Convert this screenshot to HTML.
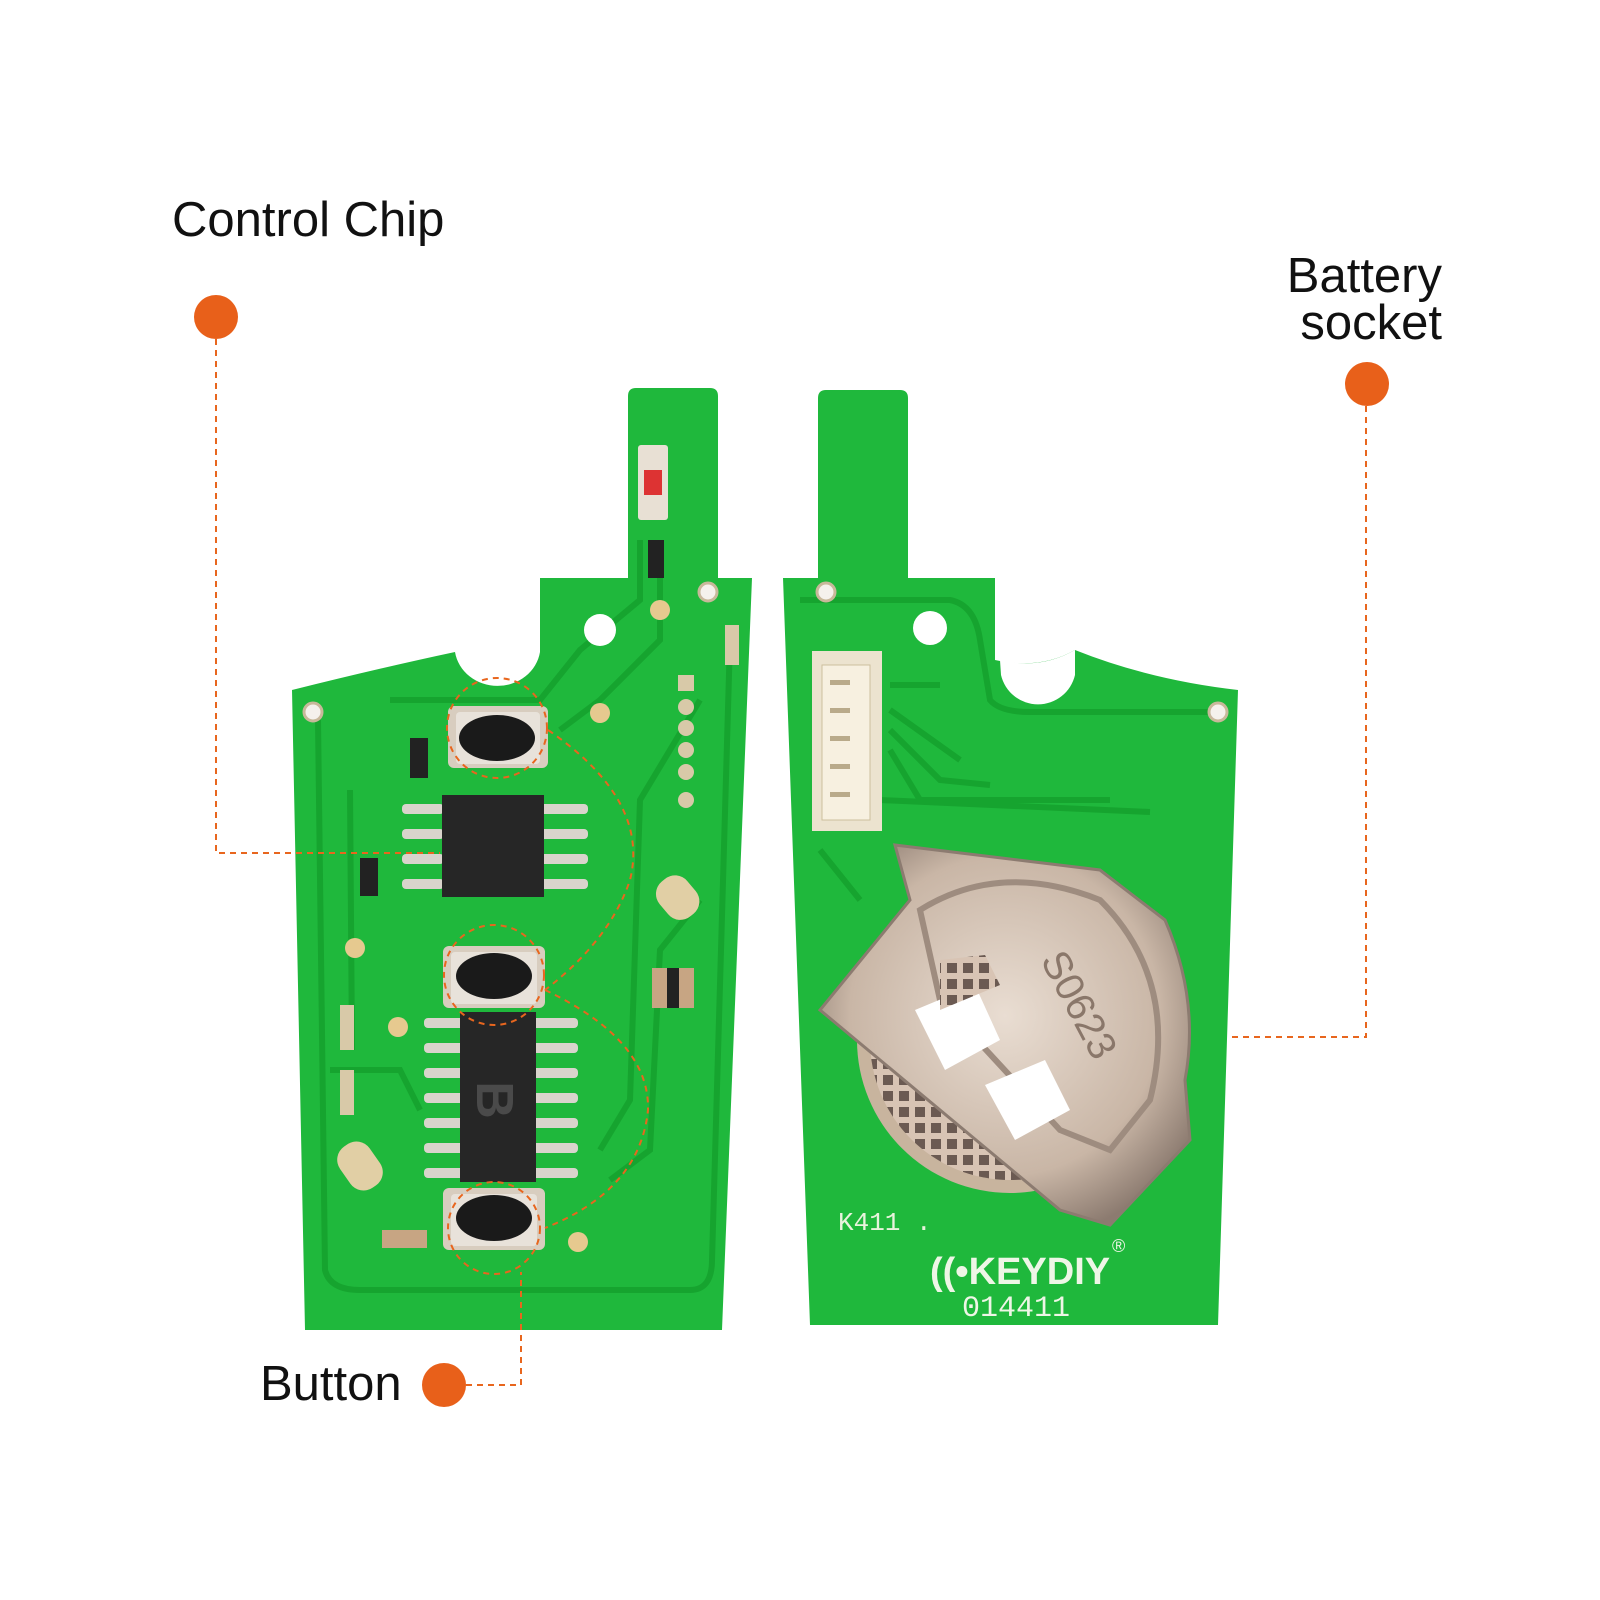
<!DOCTYPE html>
<html><head><meta charset="utf-8"><style>
html,body{margin:0;padding:0;background:#fff;}
svg{display:block}
</style></head><body>
<svg width="1600" height="1600" viewBox="0 0 1600 1600" xmlns="http://www.w3.org/2000/svg">
<defs>
<radialGradient id="met" cx="50%" cy="45%" r="60%">
<stop offset="0" stop-color="#e9ddd2"/><stop offset="0.7" stop-color="#c9b6a6"/><stop offset="1" stop-color="#8c7b70"/>
</radialGradient>
<pattern id="grid" width="16" height="16" patternUnits="userSpaceOnUse">
<rect width="16" height="16" fill="#d8c4b4"/><rect x="3" y="3" width="10" height="10" fill="#6b5a52"/>
</pattern>
</defs>
<rect width="1600" height="1600" fill="#fff"/>

<!-- Left PCB -->
<path d="M628,396 Q628,388 636,388 L710,388 Q718,388 718,396 L718,578 L752,578 L722,1330 L305,1330 L292,690 Q380,668 455,652 A43,40 0 0 0 540,652 L540,578 L628,578 Z" fill="#1fb83c"/>
<!-- left PCB traces -->
<g fill="none" stroke="#16a42f" stroke-width="6">
<path d="M318,720 L325,1270 Q330,1290 360,1290 L690,1290 Q712,1290 712,1260 L730,640"/>
<path d="M350,790 L352,1050 M390,700 L540,700 L580,650 L640,600 L640,540"/>
<path d="M560,730 L600,700 L660,640 L660,570 M600,1150 L630,1100 L640,800 L700,700"/>
<path d="M330,1070 L400,1070 L420,1110 M610,1180 L650,1150 L660,950 L700,900"/>
</g>
<circle cx="600" cy="630" r="16" fill="#fff"/>
<circle cx="313" cy="712" r="9" fill="#f5f1ec" stroke="#c8b89a" stroke-width="3"/>
<circle cx="708" cy="592" r="9" fill="#f5f1ec" stroke="#c8b89a" stroke-width="3"/>
<rect x="638" y="445" width="30" height="75" rx="3" fill="#e8e0d4"/>
<rect x="644" y="470" width="18" height="25" fill="#d33"/>
<rect x="648" y="540" width="16" height="38" fill="#222"/>
<circle cx="660" cy="610" r="10" fill="#e6c98f"/>
<circle cx="600" cy="713" r="10" fill="#e6c98f"/>
<circle cx="355" cy="948" r="10" fill="#e6c98f"/>
<circle cx="398" cy="1027" r="10" fill="#e6c98f"/>
<circle cx="578" cy="1242" r="10" fill="#e6c98f"/>
<g fill="#d8c9a8"><rect x="678" y="675" width="16" height="16"/><circle cx="686" cy="707" r="8"/><circle cx="686" cy="728" r="8"/><circle cx="686" cy="750" r="8"/><circle cx="686" cy="772" r="8"/><circle cx="686" cy="800" r="8"/></g>
<rect x="725" y="625" width="14" height="40" fill="#d8c9a8"/>
<rect x="410" y="738" width="18" height="40" fill="#222"/>
<rect x="360" y="858" width="18" height="38" fill="#222"/>
<rect x="340" y="1005" width="14" height="45" fill="#d8c9a8"/>
<rect x="340" y="1070" width="14" height="45" fill="#d8c9a8"/>
<rect x="652" y="968" width="42" height="40" fill="#c7a583"/>
<rect x="667" y="968" width="12" height="40" fill="#222"/>
<rect x="382" y="1230" width="45" height="18" fill="#c7a583"/>
<rect x="655" y="880" width="45" height="36" rx="16" fill="#e1cfa5" transform="rotate(50 678 898)"/>
<rect x="335" y="1148" width="50" height="36" rx="16" fill="#e1cfa5" transform="rotate(55 360 1166)"/>
<!-- upper chip -->
<g fill="#d9d4cc"><rect x="402" y="804" width="42" height="10" rx="4"/><rect x="402" y="829" width="42" height="10" rx="4"/><rect x="402" y="854" width="42" height="10" rx="4"/><rect x="402" y="879" width="42" height="10" rx="4"/>
<rect x="540" y="804" width="48" height="10" rx="4"/><rect x="540" y="829" width="48" height="10" rx="4"/><rect x="540" y="854" width="48" height="10" rx="4"/><rect x="540" y="879" width="48" height="10" rx="4"/></g>
<rect x="442" y="795" width="102" height="102" fill="#262626"/>
<!-- lower chip -->
<g fill="#d9d4cc">
<rect x="424" y="1018" width="40" height="10" rx="4"/><rect x="424" y="1043" width="40" height="10" rx="4"/><rect x="424" y="1068" width="40" height="10" rx="4"/><rect x="424" y="1093" width="40" height="10" rx="4"/><rect x="424" y="1118" width="40" height="10" rx="4"/><rect x="424" y="1143" width="40" height="10" rx="4"/><rect x="424" y="1168" width="40" height="10" rx="4"/>
<rect x="530" y="1018" width="48" height="10" rx="4"/><rect x="530" y="1043" width="48" height="10" rx="4"/><rect x="530" y="1068" width="48" height="10" rx="4"/><rect x="530" y="1093" width="48" height="10" rx="4"/><rect x="530" y="1118" width="48" height="10" rx="4"/><rect x="530" y="1143" width="48" height="10" rx="4"/><rect x="530" y="1168" width="48" height="10" rx="4"/></g>
<rect x="460" y="1012" width="76" height="170" fill="#262626"/>
<text x="497" y="1120" font-family="Liberation Sans, sans-serif" font-size="52" font-weight="bold" fill="#4a4a4a" text-anchor="middle" transform="rotate(90 497 1100)">B</text>
<!-- buttons -->
<g>
<rect x="448" y="706" width="100" height="62" rx="6" fill="#d8cdbf"/><rect x="456" y="712" width="84" height="52" rx="4" fill="#e8e2da"/><ellipse cx="497" cy="738" rx="38" ry="23" fill="#1a1a1a"/>
<rect x="443" y="946" width="102" height="62" rx="6" fill="#d8cdbf"/><rect x="451" y="952" width="86" height="52" rx="4" fill="#e8e2da"/><ellipse cx="494" cy="976" rx="38" ry="23" fill="#1a1a1a"/>
<rect x="443" y="1188" width="102" height="62" rx="6" fill="#d8cdbf"/><rect x="451" y="1194" width="86" height="52" rx="4" fill="#e8e2da"/><ellipse cx="494" cy="1218" rx="38" ry="23" fill="#1a1a1a"/>
</g>
<g fill="none" stroke="#e8661e" stroke-width="2" stroke-dasharray="6,5">
<circle cx="497" cy="728" r="50"/><circle cx="494" cy="975" r="50"/><circle cx="494" cy="1228" r="46"/>
<path d="M548,730 Q650,800 630,880 Q610,940 545,990"/>
<path d="M545,990 Q650,1040 648,1110 Q640,1190 545,1228"/>
</g>

<!-- Right PCB -->
<path d="M818,398 Q818,390 826,390 L900,390 Q908,390 908,398 L908,578 L995,578 L995,660 Q1040,670 1075,650 Q1150,680 1238,690 L1218,1325 L810,1325 L783,578 L818,578 Z" fill="#1fb83c"/>
<path d="M1001,675 A38,38 0 0 0 1075,675 L1075,650 Q1040,670 1000,660 Z" fill="#fff"/>
<g fill="none" stroke="#16a42f" stroke-width="6">
<path d="M800,600 L950,600 Q975,605 980,640 L990,700 Q1000,712 1030,712 L1215,712"/>
<path d="M890,685 L940,685 M890,710 L960,760 M890,730 L940,780 L990,785 M890,750 L920,800 L1110,800 M880,800 L1150,812 M820,850 L860,900"/>
</g>
<circle cx="930" cy="628" r="17" fill="#fff"/>
<circle cx="826" cy="592" r="9" fill="#f5f1ec" stroke="#c8b89a" stroke-width="3"/>
<circle cx="1218" cy="712" r="9" fill="#f5f1ec" stroke="#c8b89a" stroke-width="3"/>
<rect x="812" y="651" width="70" height="180" fill="#ece3cf"/>
<rect x="822" y="665" width="48" height="155" fill="#f7f0e0" stroke="#cdbf9e"/>
<g fill="#b9aa8a"><rect x="830" y="680" width="20" height="5"/><rect x="830" y="708" width="20" height="5"/><rect x="830" y="736" width="20" height="5"/><rect x="830" y="764" width="20" height="5"/><rect x="830" y="792" width="20" height="5"/></g>
<!-- battery -->
<circle cx="1010" cy="1040" r="153" fill="#c8b49e"/>
<circle cx="1010" cy="1040" r="140" fill="url(#grid)"/>
<path d="M895,845 L1100,870 L1165,920 Q1200,1000 1185,1080 L1190,1140 L1110,1225 L1060,1210 L820,1010 L910,900 Z" fill="url(#met)" stroke="#8c7b70" stroke-width="3"/>
<path d="M920,910 Q1000,860 1100,900 Q1180,980 1150,1100 L1110,1150 L1060,1130 L940,1000 Z" fill="none" stroke="#9e8c7f" stroke-width="6"/>
<polygon points="915,1010 975,985 1000,1040 945,1070" fill="#fff"/>
<polygon points="985,1085 1045,1060 1070,1110 1015,1140" fill="#fff"/>
<path d="M940,960 L985,955 L1000,985 L940,1010 Z" fill="url(#grid)"/>
<text x="1040" y="960" font-family="Liberation Sans, sans-serif" font-size="40" fill="#8a776a" transform="rotate(62 1040 960)">S0623</text>
<text x="838" y="1230" font-family="Liberation Mono, monospace" font-size="26" fill="#e8f3dc">K411 .</text>
<text x="930" y="1284" font-family="Liberation Sans, sans-serif" font-size="38" font-weight="bold" fill="#eef6e6">((•KEYDIY</text>
<text x="1112" y="1252" font-family="Liberation Sans, sans-serif" font-size="18" fill="#eef6e6">®</text>
<text x="962" y="1316" font-family="Liberation Mono, monospace" font-size="30" fill="#eef6e6">014411</text>

<!-- Labels -->
<text x="172" y="236" font-family="Liberation Sans, sans-serif" font-size="49" fill="#111">Control Chip</text>
<text x="1442" y="292" font-family="Liberation Sans, sans-serif" font-size="49" fill="#111" text-anchor="end">Battery</text>
<text x="1442" y="339" font-family="Liberation Sans, sans-serif" font-size="49" fill="#111" text-anchor="end">socket</text>
<text x="260" y="1400" font-family="Liberation Sans, sans-serif" font-size="49" fill="#111">Button</text>
<g fill="#e8601a"><circle cx="216" cy="317" r="22"/><circle cx="1367" cy="384" r="22"/><circle cx="444" cy="1385" r="22"/></g>
<g fill="none" stroke="#e8661e" stroke-width="2" stroke-dasharray="6,5">
<path d="M216,339 L216,853 L440,853"/>
<path d="M1366,406 L1366,1037 L1230,1037"/>
<path d="M466,1385 L521,1385 L521,1272"/>
</g>
</svg>
</body></html>
